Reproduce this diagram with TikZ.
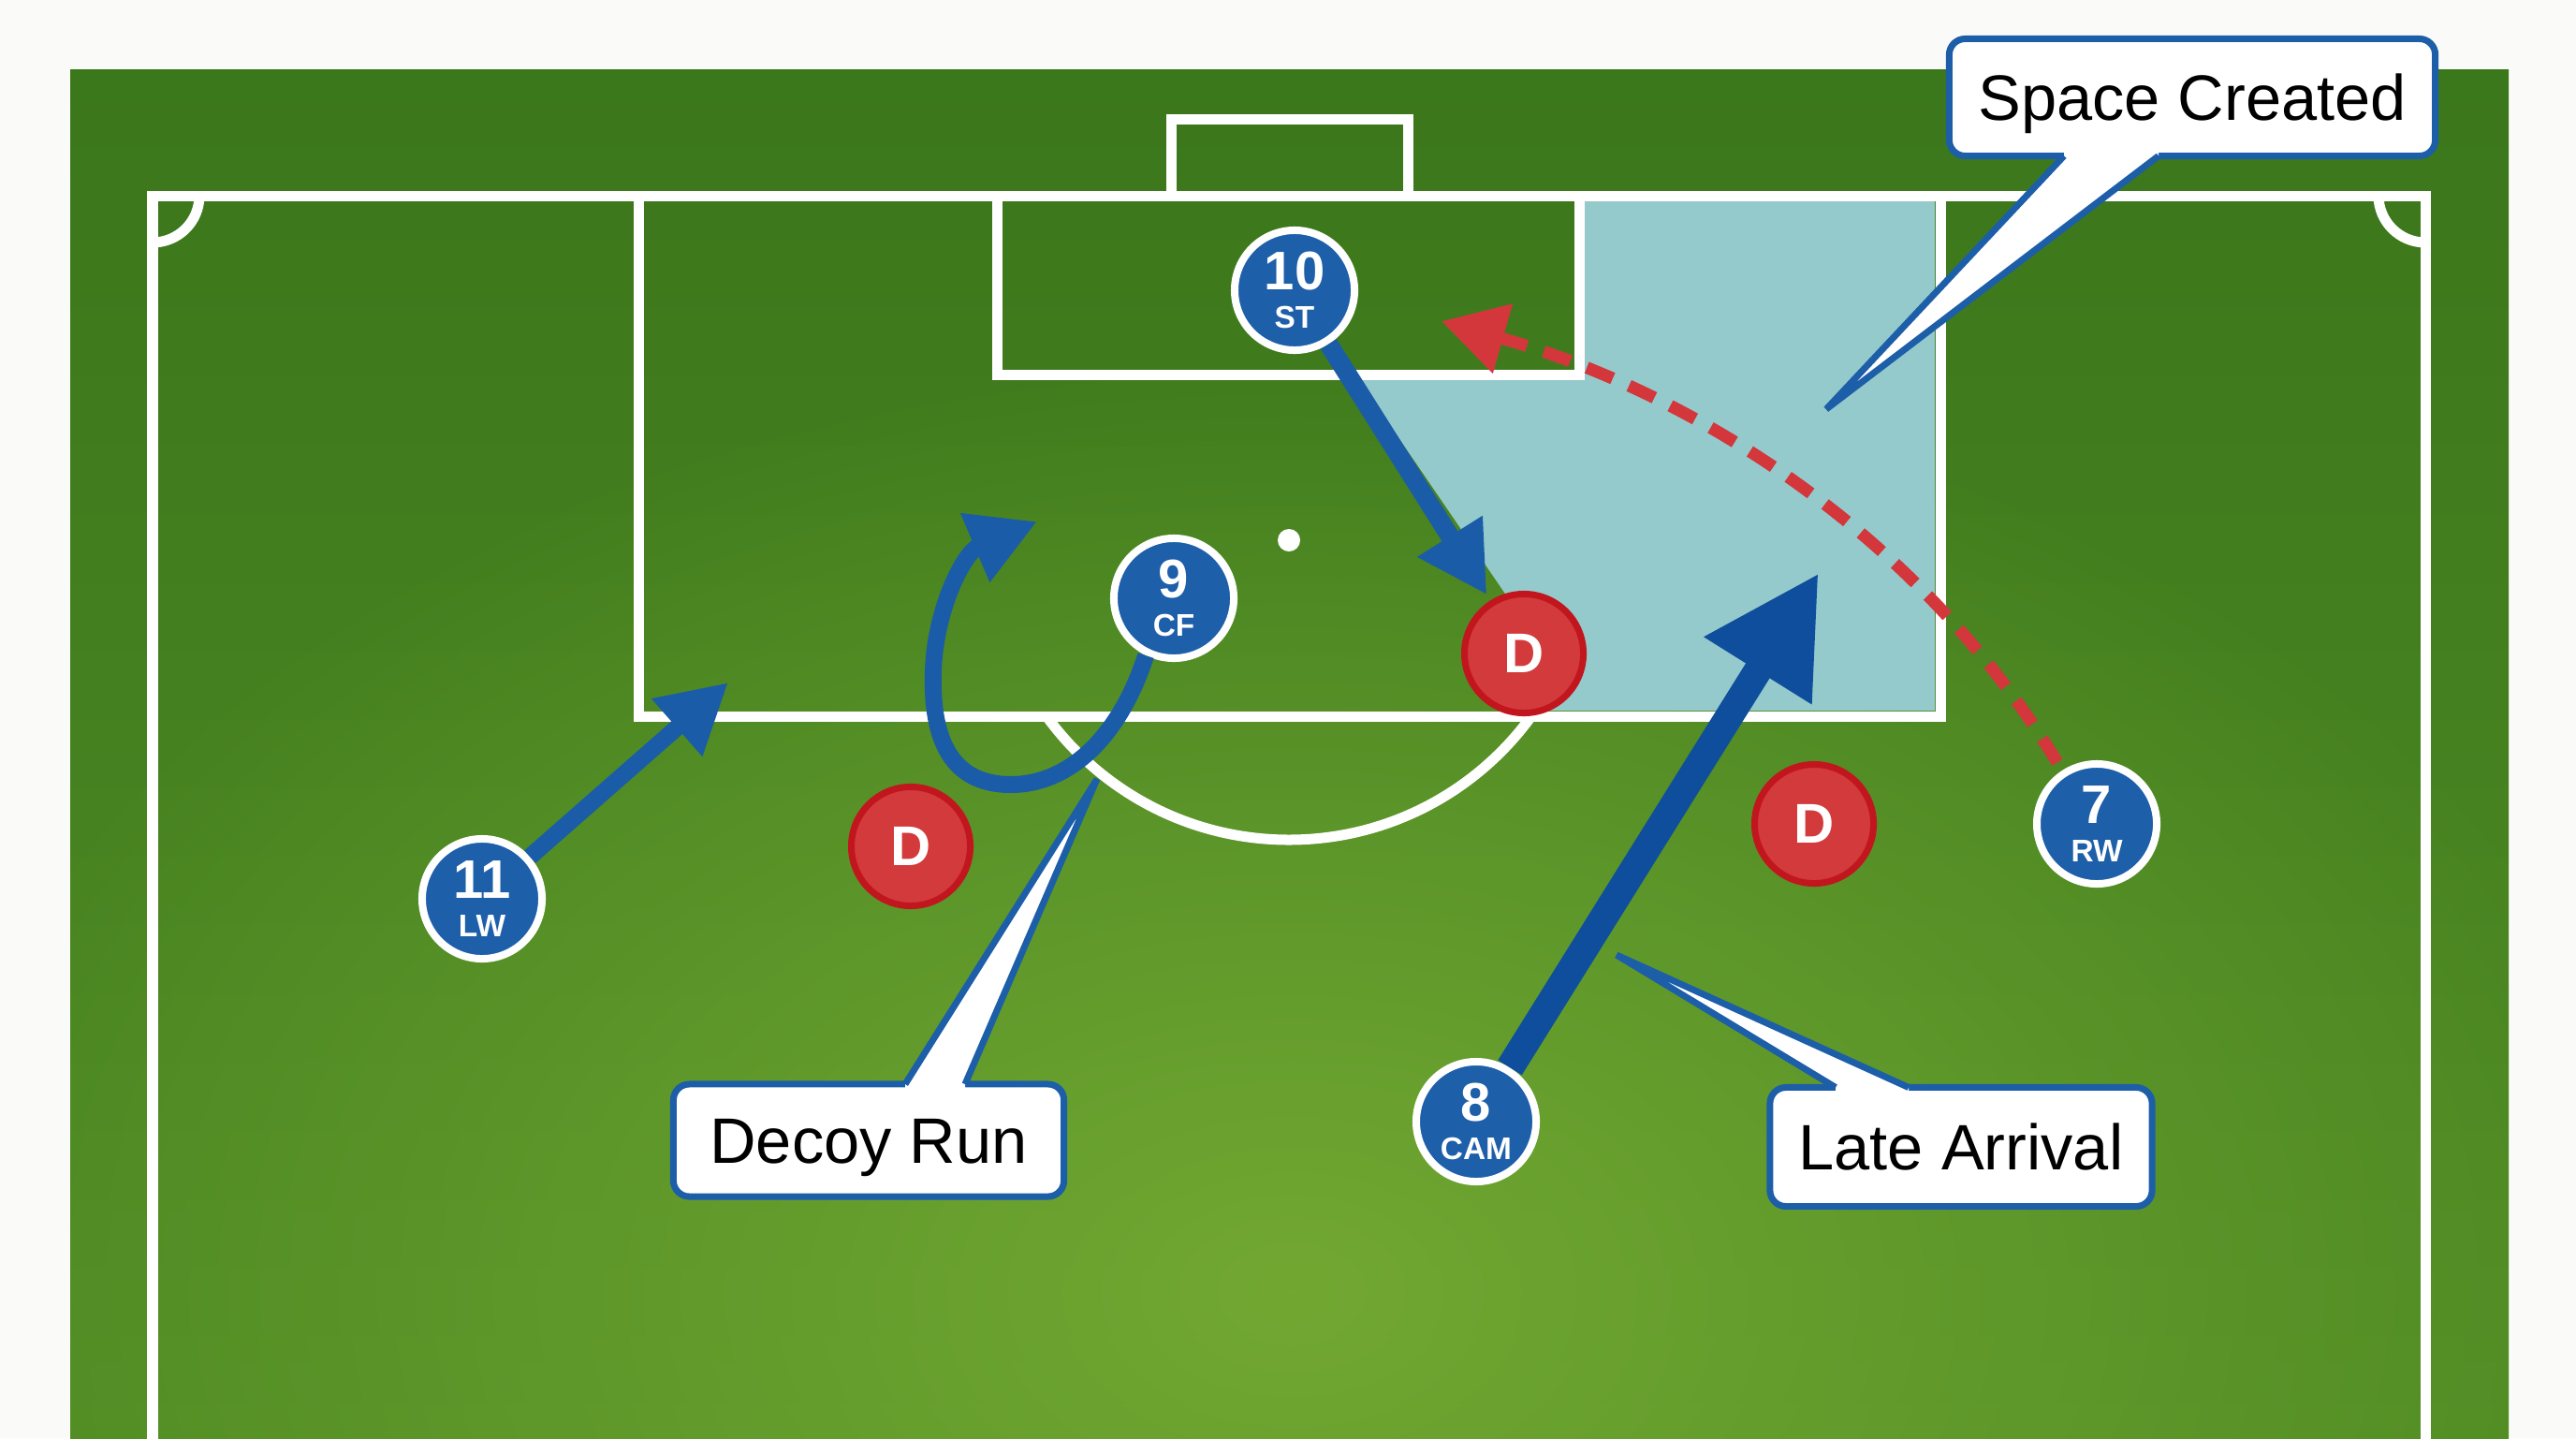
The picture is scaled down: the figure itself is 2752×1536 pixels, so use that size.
\documentclass[tikz,border=0pt]{standalone}
\usepackage{fontspec}
\setmainfont{Liberation Sans}
\usetikzlibrary{arrows.meta,calc,shadows,fadings}
\tikzfading[name=glowfade, inner color=transparent!0, outer color=transparent!100]
\definecolor{bgwhite}{HTML}{FAFAF8}
\definecolor{gtop}{HTML}{3B771B}
\definecolor{gbot}{HTML}{4F8B24}
\definecolor{glight}{HTML}{72A832}
\definecolor{spaceblue}{HTML}{94CACC}
\definecolor{pblue}{HTML}{1E5FAA}
\definecolor{ablue}{HTML}{1B5CA8}
\definecolor{adark}{HTML}{0F4E9C}
\definecolor{cblue}{HTML}{1D5EA8}
\definecolor{dred}{HTML}{D23A3C}
\definecolor{dredb}{HTML}{C2161F}
\definecolor{rdash}{HTML}{D3373B}
\newcommand\pnum[1]{{\fontsize{16.5}{16.5}\selectfont #1}}
\begin{document}
\begin{tikzpicture}[x=0.01cm, y=-0.01cm,
  pline/.style={draw=white, line width=0.11cm},
  player/.style={circle, fill=pblue, draw=white, line width=0.08cm,
    minimum size=1.28cm, inner sep=0pt, text=white, align=center,
    font=\bfseries\fontsize{9.5}{11.7}\selectfont,
    drop shadow={shadow xshift=0.02cm, shadow yshift=-0.03cm, opacity=0.25}},
  defender/.style={circle, fill=dred, draw=dredb, line width=0.07cm,
    minimum size=1.27cm, inner sep=0pt, text=white,
    font=\bfseries\fontsize{17}{20}\selectfont,
    drop shadow={shadow xshift=0.02cm, shadow yshift=-0.03cm, opacity=0.25}},
  callout/.style={draw=cblue, fill=white, line width=0.07cm, rounded corners=0.17cm,
    inner sep=0pt, outer sep=0pt, text=black, text height=14pt, text depth=0pt,
    font=\fontsize{19.5}{23}\selectfont},
  tailfill/.style={fill=white},
  tailline/.style={draw=cblue, line width=0.07cm, line join=miter},
  run/.style={draw=ablue, line width=0.18cm},
  runbig/.style={draw=adark, line width=0.30cm, -{Triangle[length=1.23cm, width=1.27cm]}},
  dashrun/.style={draw=rdash, line width=0.13cm, dash pattern=on 0.30cm off 0.19cm,
    -{Triangle[length=0.68cm, width=0.74cm]}},
]
\useasboundingbox (0,0) rectangle (2752,1536);
\fill[bgwhite] (0,0) rectangle (2752,1536);
% field
\shade[top color=gtop, bottom color=gbot] (75,74) rectangle (2680,1536);
\begin{scope}
  \clip (75,74) rectangle (2680,1536);
  \fill[glight, path fading=glowfade] (1380,1380) ellipse (1500 and 1000);
\end{scope}
% space created region
\fill[spaceblue] (1687,214) -- (2067,214) -- (2067,759) -- (1655,759) -- (1612,640)
  -- (1448,400) -- (1687,400) -- cycle;
% pitch lines
\draw[pline] (163,1546) -- (163,209) -- (2591,209) -- (2591,1546);
\draw[pline] (682,209) -- (682,765) -- (2073,765) -- (2073,209);
\draw[pline] (1065,209) -- (1065,400) -- (1687,400) -- (1687,209);
\draw[pline] (1251,209) -- (1251,127) -- (1504,127) -- (1504,209);
\fill[white] (1377,577) circle (12);
\begin{scope}
  \clip (0,771) rectangle (2752,1536);
  \draw[pline] (1377,577) circle (320);
\end{scope}
\draw[pline] (213,209) arc[start angle=0, end angle=90, radius=50];
\draw[pline] (2541,209) arc[start angle=180, end angle=90, radius=50];

% players
\node[player] (st)  at (1383,310) {\pnum{10}\\ST};
\node[player] (cf)  at (1254,639) {\pnum{9}\\CF};
\node[player] (lw)  at (515,960)  {\pnum{11}\\LW};
\node[player] (cam) at (1577,1198) {\pnum{8}\\CAM};
\node[player] (rw)  at (2240,880) {\pnum{7}\\RW};
% defenders
\node[defender] (d1) at (973,904) {D};
\node[defender] (d2) at (1628,698) {D};
\node[defender] (d3) at (1938,880) {D};

% runs
\coordinate (lwT) at (778,729);
\coordinate (camT) at (1943,612);
\coordinate (cfT) at (1108,557);
\coordinate (rwT) at (1540,343);
\draw[run, -{Triangle[length=0.73cm, width=0.77cm]}] (lw) -- (lwT);
\draw[run, line width=0.20cm, shorten >=2pt, -{Triangle[length=0.74cm, width=0.77cm]}] (st) -- (d2);
\draw[runbig] (cam) -- (camT);
\draw[run, -{Triangle[length=0.72cm, width=0.75cm]}] (cf.244)
  .. controls (1195,790) and (1140,838) .. (1080,838)
  .. controls (1010,838) and (995,780) .. (997,717)
  .. controls (999,650) and (1030,590) .. (cfT);
\draw[dashrun, shorten <=0.1cm] (rw.123) .. controls (2050,570) and (1810,420) .. (rwT);

% callouts
\node[callout, minimum width=5.19cm, minimum height=1.25cm] (sc) at (2342,104) {Space Created};
\coordinate (scT) at (1951,437);
\fill[tailfill] ($(sc.south)+(-137,-6)$) -- ($(sc.south)+(-137,0)$) -- (scT)
  -- ($(sc.south)+(-36,0)$) -- ($(sc.south)+(-36,-6)$) -- cycle;
\draw[tailline] ($(sc.south)+(-137,0)$) -- (scT) -- ($(sc.south)+(-36,0)$);

\node[callout, minimum width=4.17cm, minimum height=1.20cm] (dr) at (928,1218) {Decoy Run};
\coordinate (drT) at (1172,832);
\fill[tailfill] ($(dr.north)+(39,6)$) -- ($(dr.north)+(39,0)$) -- (drT)
  -- ($(dr.north)+(103,0)$) -- ($(dr.north)+(103,6)$) -- cycle;
\draw[tailline] ($(dr.north)+(39,0)$) -- (drT) -- ($(dr.north)+(103,0)$);

\node[callout, minimum width=4.08cm, minimum height=1.27cm] (la) at (2095,1225) {Late Arrival};
\coordinate (laT) at (1727,1020);
\fill[tailfill] ($(la.north)+(-134,6)$) -- ($(la.north)+(-134,0)$) -- (laT)
  -- ($(la.north)+(-56,0)$) -- ($(la.north)+(-56,6)$) -- cycle;
\draw[tailline] ($(la.north)+(-134,0)$) -- (laT) -- ($(la.north)+(-56,0)$);
\end{tikzpicture}
\end{document}
